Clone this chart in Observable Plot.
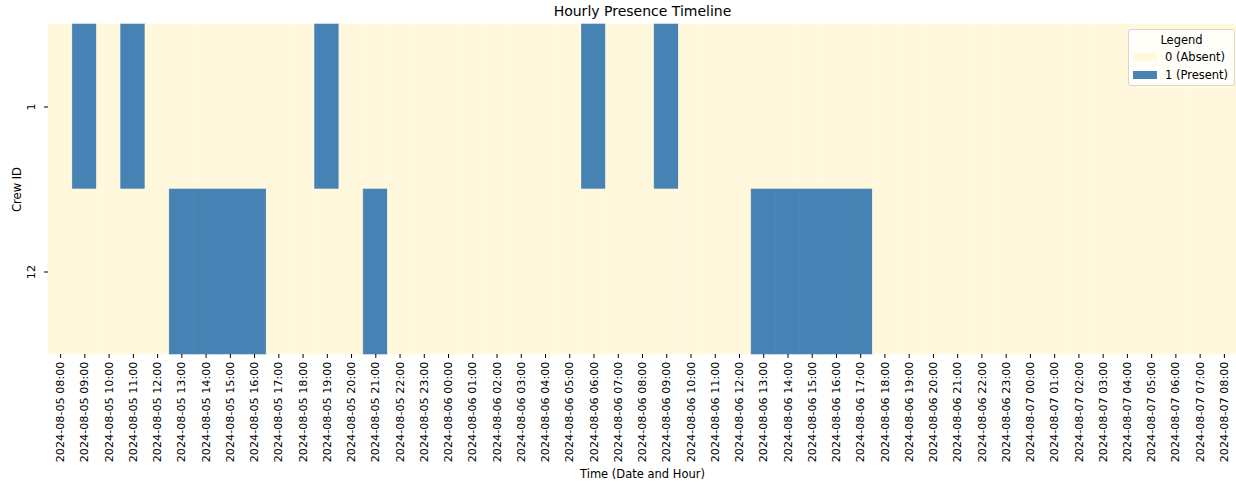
<!DOCTYPE html>
<html>
<head>
<meta charset="utf-8">
<script src="https://cdn.jsdelivr.net/npm/d3@7"></script>
<script src="https://cdn.jsdelivr.net/npm/@observablehq/plot@0.6"></script>
<style>
  html, body { margin: 0; padding: 0; background: #fff; }
  #wrap { position: relative; width: 1236px; height: 486px; font-family: "DejaVu Sans", sans-serif; }
  #title { position: absolute; left: 48px; width: 1189px; top: 3px; text-align: center; font-size: 14px; color: #000; }
  #legend { position: absolute; left: 1128px; top: 29px; width: 105px; height: 55px; background: rgba(255,255,255,0.8); border: 1px solid #d6d6d6; border-radius: 3px; font-size: 11.5px; color: #000; }
  #legend .lt { position: absolute; top: 3px; width: 100%; text-align: center; }
  #legend .row { position: absolute; left: 4px; height: 14px; display: flex; align-items: center; }
  #legend .sw { width: 24px; height: 8px; margin-right: 8px; }
</style>
</head>
<body>
<div id="wrap">
  <div id="title">Hourly Presence Timeline</div>
  <div id="chart"></div>
  <div id="legend"></div>
</div>
<script>
const hours = [
  "2024-08-05 08:00","2024-08-05 09:00","2024-08-05 10:00","2024-08-05 11:00","2024-08-05 12:00",
  "2024-08-05 13:00","2024-08-05 14:00","2024-08-05 15:00","2024-08-05 16:00","2024-08-05 17:00",
  "2024-08-05 18:00","2024-08-05 19:00","2024-08-05 20:00","2024-08-05 21:00","2024-08-05 22:00",
  "2024-08-05 23:00","2024-08-06 00:00","2024-08-06 01:00","2024-08-06 02:00","2024-08-06 03:00",
  "2024-08-06 04:00","2024-08-06 05:00","2024-08-06 06:00","2024-08-06 07:00","2024-08-06 08:00",
  "2024-08-06 09:00","2024-08-06 10:00","2024-08-06 11:00","2024-08-06 12:00","2024-08-06 13:00",
  "2024-08-06 14:00","2024-08-06 15:00","2024-08-06 16:00","2024-08-06 17:00","2024-08-06 18:00",
  "2024-08-06 19:00","2024-08-06 20:00","2024-08-06 21:00","2024-08-06 22:00","2024-08-06 23:00",
  "2024-08-07 00:00","2024-08-07 01:00","2024-08-07 02:00","2024-08-07 03:00","2024-08-07 04:00",
  "2024-08-07 05:00","2024-08-07 06:00","2024-08-07 07:00","2024-08-07 08:00"
];
const crewIds = ["1", "12"];
const crew1 = [0,1,0,1,0, 0,0,0,0,0, 0,1,0,0,0, 0,0,0,0,0, 0,0,1,0,0, 1,0,0,0,0, 0,0,0,0,0, 0,0,0,0,0, 0,0,0,0,0, 0,0,0,0];
const crew12 = [0,0,0,0,0, 1,1,1,1,0, 0,0,0,1,0, 0,0,0,0,0, 0,0,0,0,0, 0,0,0,0,1, 1,1,1,1,0, 0,0,0,0,0, 0,0,0,0,0, 0,0,0,0];
const legendLabels = ["0 (Absent)", "1 (Present)"];
const colors = ["#fff8dc", "#4682b4"];

const series = [crew1, crew12];
const cells = [];
crewIds.forEach((c, i) => hours.forEach((h, j) => cells.push({crew: c, hour: h, value: series[i][j]})));

const chart = Plot.plot({
  width: 1236,
  height: 486,
  marginTop: 24,
  marginBottom: 132,
  marginLeft: 48,
  marginRight: 0,
  style: {fontFamily: "DejaVu Sans, sans-serif", fontSize: "11.2px", color: "#000", background: "transparent"},
  x: {type: "band", domain: hours, padding: 0, round: false},
  y: {type: "band", domain: crewIds, padding: 0, round: false},
  color: {type: "ordinal", domain: [0, 1], range: colors},
  marks: [
    Plot.cell(cells, {x: "hour", y: "crew", fill: "value", stroke: "value", strokeWidth: 0.6, inset: 0}),
    Plot.axisX({tickRotate: -90, tickSize: 4, tickPadding: 3, label: null, fontSize: 11.2}),
    Plot.axisX({ticks: [], tickSize: 0, label: "Time (Date and Hour)", labelAnchor: "center", labelOffset: 123, labelArrow: "none", fontSize: 11.5}),
    Plot.axisY({tickRotate: -90, tickSize: 4, tickPadding: 10, label: null, fontSize: 11.2}),
    Plot.axisY({ticks: [], tickSize: 0, label: "Crew ID", labelAnchor: "center", labelOffset: 36, labelArrow: "none", fontSize: 11.5})
  ]
});
document.getElementById("chart").appendChild(chart);

const lg = document.getElementById("legend");
const t = document.createElement("div"); t.className = "lt"; t.textContent = "Legend"; lg.appendChild(t);
legendLabels.forEach((l, i) => {
  const r = document.createElement("div"); r.className = "row"; r.style.top = (20 + i * 18) + "px";
  const s = document.createElement("div"); s.className = "sw"; s.style.background = colors[i];
  const tx = document.createElement("span"); tx.textContent = l;
  r.appendChild(s); r.appendChild(tx); lg.appendChild(r);
});
</script>
</body>
</html>
